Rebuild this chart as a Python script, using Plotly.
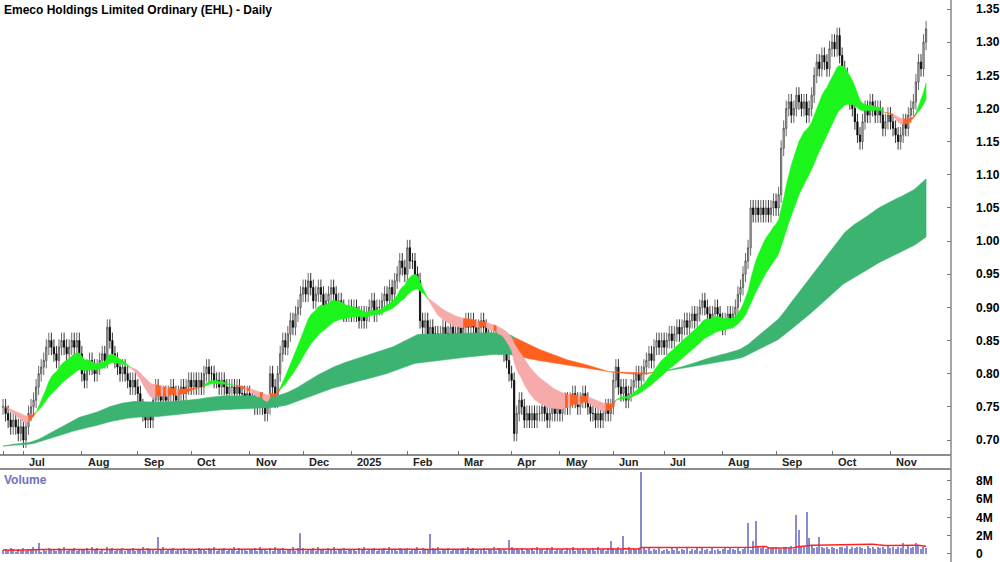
import numpy as np
import plotly.graph_objects as go

months = ["Jun", "Jul", "Aug", "Sep", "Oct", "Nov", "Dec", "2025", "Feb", "Mar", "Apr", "May",
          "Jun", "Jul", "Aug", "Sep", "Oct", "Nov"]
closes_by_month = [
    [0.75,0.74,0.73,0.72,0.73,0.72,0.71,0.72],
    [0.70,0.72,0.74,0.75,0.76,0.78,0.80,0.81,0.82,0.84,0.85,0.84,0.83,0.82,0.84,0.85,0.84,0.83,0.84,0.85,0.84,0.85,0.83],
    [0.80,0.79,0.81,0.82,0.81,0.80,0.81,0.82,0.83,0.82,0.87,0.85,0.83,0.82,0.81,0.80,0.81,0.80,0.79,0.78,0.79,0.78],
    [0.77,0.75,0.74,0.73,0.74,0.73,0.76,0.78,0.77,0.76,0.77,0.76,0.77,0.78,0.77,0.76,0.77,0.78,0.77,0.78,0.79],
    [0.78,0.79,0.78,0.79,0.78,0.80,0.81,0.80,0.80,0.79,0.79,0.78,0.79,0.78,0.77,0.78,0.78,0.77,0.78,0.77,0.77,0.76,0.77],
    [0.76,0.76,0.75,0.75,0.76,0.75,0.74,0.75,0.80,0.78,0.76,0.80,0.83,0.85,0.84,0.86,0.88,0.87,0.89,0.90,0.92],
    [0.93,0.92,0.94,0.93,0.91,0.92,0.93,0.92,0.90,0.91,0.92,0.93,0.92,0.90,0.91,0.90,0.89,0.89,0.90],
    [0.89,0.90,0.89,0.88,0.89,0.88,0.89,0.90,0.91,0.89,0.90,0.90,0.91,0.92,0.91,0.93,0.92,0.94,0.95,0.97,0.96,0.95],
    [0.99,0.97,0.97,0.95,0.94,0.88,0.87,0.88,0.86,0.87,0.86,0.86,0.85,0.86,0.87,0.86,0.86,0.87,0.86,0.86],
    [0.87,0.86,0.87,0.88,0.87,0.88,0.87,0.86,0.87,0.88,0.87,0.86,0.85,0.86,0.86,0.85,0.84,0.85,0.83,0.82,0.80],
    [0.79,0.71,0.74,0.76,0.75,0.73,0.74,0.73,0.74,0.73,0.74,0.74,0.75,0.74,0.73,0.74,0.75,0.74,0.75],
    [0.74,0.75,0.76,0.75,0.76,0.77,0.76,0.75,0.76,0.77,0.76,0.75,0.74,0.74,0.73,0.74,0.73,0.74,0.75,0.74,0.75],
    [0.79,0.81,0.78,0.77,0.78,0.76,0.77,0.78,0.79,0.80,0.79,0.80,0.81,0.82,0.83,0.82,0.84,0.85,0.84,0.85],
    [0.84,0.85,0.86,0.85,0.86,0.87,0.86,0.87,0.88,0.87,0.88,0.89,0.88,0.89,0.90,0.91,0.90,0.89,0.88,0.89,0.90,0.89,0.88],
    [0.87,0.88,0.89,0.88,0.89,0.90,0.92,0.93,0.95,0.97,0.99,1.05,1.04,1.05,1.04,1.05,1.04,1.05,1.04,1.05,1.06],
    [1.05,1.07,1.14,1.17,1.20,1.21,1.19,1.20,1.22,1.21,1.20,1.21,1.19,1.20,1.22,1.25,1.27,1.26,1.28,1.27,1.26,1.29],
    [1.30,1.29,1.31,1.28,1.26,1.25,1.22,1.21,1.20,1.18,1.16,1.15,1.18,1.20,1.19,1.21,1.20,1.19,1.20,1.19,1.17,1.18,1.19],
    [1.18,1.17,1.16,1.15,1.16,1.18,1.17,1.19,1.20,1.21,1.24,1.27,1.26,1.30,1.32],
]
# daily volume in units of 100k shares
volume_digits = ["45364253", "63547462536453647354635", "5463746352846354635463",
    "547364536473546354635", "45364536473546354736453", "546374536374563547364",
    "6354637453647354634", "4536473546354637453645", "63547364536473546354",
    "546374635463547364536", "7564635463745364735", "453647354635463745364",
    "65746374546364735463", "45364735463546374536453", "564754635764758695768",
    "7658769576876596758675", "76587695768765967586759", "675867596879576"]
volume_spikes = {14: 1.2e6, 61: 1.8e6, 117: 2.3e6, 168: 2.2e6, 199: 1.5e6, 239: 1.4e6,
                 244: 1.9e6, 251: 9.0e6, 293: 3.4e6, 295: 1.4e6, 296: 3.6e6, 312: 4.3e6,
                 313: 2.6e6, 316: 4.6e6, 317: 1.7e6, 321: 1.8e6, 354: 1.2e6, 359: 1.2e6}
prior_level = 0.69  # price level before the chart starts (left end of the long ribbon)
price_ticks = [0.70,0.75,0.80,0.85,0.90,0.95,1.00,1.05,1.10,1.15,1.20,1.25,1.30,1.35]
vol_ticks = [0, 2e6, 4e6, 6e6, 8e6]
vol_labels = ["0", "2M", "4M", "6M", "8M"]

close = np.array([c for m in closes_by_month for c in m])
n = len(close)
x = np.arange(n)
month_start = np.cumsum([0] + [len(m) for m in closes_by_month[:-1]])
opens = np.concatenate([[close[0]], close[:-1]])
high = np.maximum(opens, close) + 0.012
low = np.minimum(opens, close) - 0.012
vol = np.array([int(d) * 1e5 for s in volume_digits for d in s])
for k, v in volume_spikes.items():
    vol[k] = v
vol_ma = np.array([vol[max(0, i - 49):i + 1].mean() for i in range(n)])

def ema(a, p, seed):
    k = 2 / (p + 1); out = np.empty_like(a); prev = seed
    for i in range(len(a)):
        prev = a[i] * k + prev * (1 - k); out[i] = prev
    return out

s1, s2 = ema(close, 13, close[0]), ema(close, 30, close[0])
l1, l2 = ema(close, 115, prior_level), ema(close, 210, prior_level)
GREEN, PINK, ORANGE, DKGREEN = "#1cf51c", "#f7aaaa", "#ff5f1f", "#3cb371"
slope2 = np.concatenate([[0], np.diff(s2)])
short_col = [GREEN if s1[i] >= s2[i] else (PINK if slope2[i] < -0.001 else ORANGE) for i in range(n)]
long_col = [DKGREEN if (l1[i] >= l2[i] and s2[i] >= l1[i] - 0.005) else ORANGE for i in range(n)]

fig = go.Figure()

def ribbon(a, b, cols):
    i = 0
    while i < n:
        j = i
        while j + 1 < n and cols[j + 1] == cols[i]:
            j += 1
        jj = min(j + 1, n - 1)
        xs = list(x[i:jj + 1]) + list(x[i:jj + 1][::-1])
        ys = list(np.maximum(a, b)[i:jj + 1]) + list(np.minimum(a, b)[i:jj + 1][::-1])
        fig.add_trace(go.Scatter(x=xs, y=ys, fill="toself", fillcolor=cols[i], mode="lines",
                                 line=dict(width=0.5, color=cols[i]), hoverinfo="skip",
                                 showlegend=False, xaxis="x", yaxis="y"))
        i = j + 1

ribbon(l1, l2, long_col)
ribbon(s1, s2, short_col)

fig.add_trace(go.Candlestick(x=x, open=opens, high=high, low=low, close=close,
    increasing=dict(fillcolor="#d8d8d8", line=dict(color="#444444", width=0.8)),
    decreasing=dict(fillcolor="#000000", line=dict(color="#000000", width=0.8)),
    whiskerwidth=0, showlegend=False, xaxis="x", yaxis="y"))

fig.add_trace(go.Bar(x=x, y=vol, marker=dict(color="#8a8ad0", line=dict(width=0)),
                     width=0.45, showlegend=False, xaxis="x2", yaxis="y2"))
fig.add_trace(go.Scatter(x=x, y=vol_ma, mode="lines", line=dict(color="#ff2020", width=1.5),
                         showlegend=False, xaxis="x2", yaxis="y2"))

xr = [-1.2, 372.8]
tf = dict(family="Arial", size=12, color="#000")
fig.update_layout(
    width=1000, height=562, margin=dict(l=0, r=47, t=0, b=0),
    paper_bgcolor="white", plot_bgcolor="white", bargap=0,
    xaxis=dict(domain=[0, 1], range=xr, showgrid=False, zeroline=False, tickvals=list(month_start),
               ticks="inside", ticklen=4, tickcolor="#777", showticklabels=False,
               rangeslider=dict(visible=False), anchor="y"),
    yaxis=dict(domain=[1 - 455 / 562, 1], range=[0.6774, 1.3636], side="right", showgrid=False,
               zeroline=False, tickvals=price_ticks, ticktext=["<b>%.2f</b>" % t for t in price_ticks],
               ticks="inside", ticklen=4, tickcolor="#777", ticklabelstandoff=24,
               tickfont=tf, anchor="x"),
    xaxis2=dict(domain=[0, 1], range=xr, showgrid=False, zeroline=False, showticklabels=False,
                anchor="y2"),
    yaxis2=dict(domain=[0, 1 - 469 / 562], range=[-0.9e6, 9.3e6], side="right", showgrid=False,
                zeroline=False, tickvals=vol_ticks, ticktext=["<b>%s</b>" % t for t in vol_labels],
                ticks="inside", ticklen=4, tickcolor="#777", ticklabelstandoff=24,
                tickfont=tf, anchor="x2"),
)
for y in [455, 469]:
    fig.add_shape(type="line", xref="paper", yref="paper", x0=0, x1=1,
                  y0=1 - y / 562, y1=1 - y / 562, line=dict(color="#666", width=1.5))
fig.add_shape(type="line", xref="paper", yref="paper", x0=1, x1=1, y0=0, y1=1,
              line=dict(color="#888", width=1.5))
for i, (ms, lab) in enumerate(zip(month_start, months)):
    if i == 0:
        continue
    fig.add_annotation(x=ms + 1.5, y=1 - 462 / 562, xref="x", yref="paper", text="<b>%s</b>" % lab,
                       showarrow=False, xanchor="left", yanchor="middle",
                       font=dict(family="Arial", size=11, color="#222"))
fig.add_annotation(x=0, y=1, xref="paper", yref="paper", xanchor="left", yanchor="top",
                   text="<b>Emeco Holdings Limited Ordinary (EHL) - Daily</b>", showarrow=False,
                   font=dict(family="Arial", size=12, color="#000"), xshift=2, yshift=-1)
fig.add_annotation(x=0, y=1 - 471 / 562, xref="paper", yref="paper", xanchor="left", yanchor="top",
                   text="<b>Volume</b>", showarrow=False,
                   font=dict(family="Arial", size=12, color="#7070c0"), xshift=2)
fig.write_html("out.html", config={"displayModeBar": False},
               post_script="document.body.style.margin='0';document.body.style.overflow='hidden';")
